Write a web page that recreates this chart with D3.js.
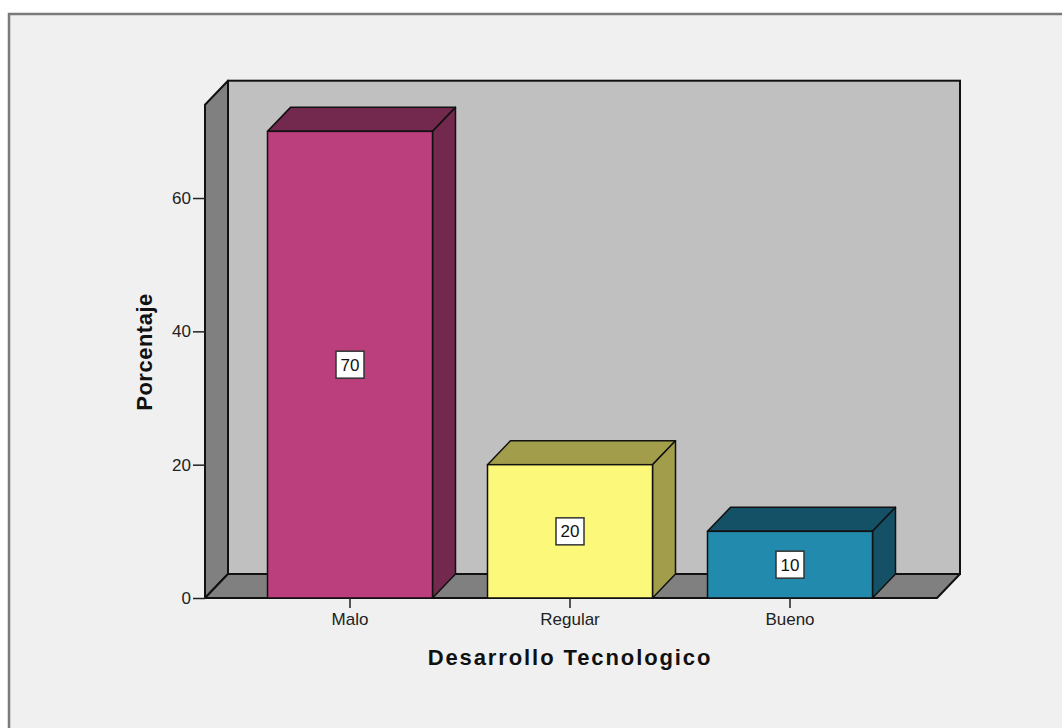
<!DOCTYPE html>
<html>
<head>
<meta charset="utf-8">
<script src="https://cdn.jsdelivr.net/npm/d3@7/dist/d3.min.js"></script>
<style>
  html, body { margin: 0; padding: 0; background: #ffffff; }
  svg { display: block; }
  text { font-family: Arial, "Liberation Sans", sans-serif; }
</style>
</head>
<body>
<svg id="chart" width="1062" height="728"></svg>
<script>
// Distribution of "Desarrollo Tecnologico" responses, in percent
const categories = ["Malo", "Regular", "Bueno"];
const percentages = [70, 20, 10];
const yTicks = [0, 20, 40, 60];
const frontColors = ["#bb3f7c", "#fbf87a", "#228aad"];
const sideColors = ["#73284d", "#a19d4b", "#155166"];

const svg = d3.select("#chart");

// Panel background with its frame
svg.append("rect")
  .attr("x", 9).attr("y", 14)
  .attr("width", 1062).attr("height", 728)
  .attr("fill", "#f0f0f0")
  .attr("stroke", "#7a7a7a").attr("stroke-width", 2.5);

// 3D depth offsets of the plot box
const dx = 23, dy = 24;
const plotLeft = 205, plotRight = 937, plotBottom = 598;

const x = d3.scaleBand()
  .domain(categories)
  .range([240, 900])
  .paddingInner(0.25)
  .paddingOuter(0.125);

const y = d3.scaleLinear()
  .domain([0, 74])
  .range([plotBottom, 104.7]);

const plotTop = y(74);
const g = svg.append("g");

// Back wall
g.append("rect")
  .attr("x", plotLeft + dx).attr("y", plotTop - dy)
  .attr("width", plotRight - plotLeft).attr("height", plotBottom - plotTop)
  .attr("fill", "#c0c0c0")
  .attr("stroke", "#111").attr("stroke-width", 2);

// Left wall
g.append("polygon")
  .attr("points", [[plotLeft, plotTop], [plotLeft + dx, plotTop - dy], [plotLeft + dx, plotBottom - dy], [plotLeft, plotBottom]].join(" "))
  .attr("fill", "#808080")
  .attr("stroke", "#111").attr("stroke-width", 2).attr("stroke-linejoin", "round");

// Floor
g.append("polygon")
  .attr("points", [[plotLeft, plotBottom], [plotLeft + dx, plotBottom - dy], [plotRight + dx, plotBottom - dy], [plotRight, plotBottom]].join(" "))
  .attr("fill", "#808080")
  .attr("stroke", "#111").attr("stroke-width", 2).attr("stroke-linejoin", "round");

// Bars: top face, right side and front face
const bars = g.selectAll("g.bar")
  .data(categories.map((c, i) => ({ c, v: percentages[i], i })))
  .join("g").attr("class", "bar");

bars.append("polygon")
  .attr("points", d => {
    const x0 = x(d.c), x1 = x0 + x.bandwidth(), yt = y(d.v);
    return [[x0, yt], [x0 + dx, yt - dy], [x1 + dx, yt - dy], [x1, yt]].join(" ");
  })
  .attr("fill", d => sideColors[d.i])
  .attr("stroke", "#111").attr("stroke-width", 1.5).attr("stroke-linejoin", "round");

bars.append("polygon")
  .attr("points", d => {
    const x1 = x(d.c) + x.bandwidth(), yt = y(d.v);
    return [[x1, yt], [x1 + dx, yt - dy], [x1 + dx, plotBottom - dy], [x1, plotBottom]].join(" ");
  })
  .attr("fill", d => sideColors[d.i])
  .attr("stroke", "#111").attr("stroke-width", 1.5).attr("stroke-linejoin", "round");

bars.append("rect")
  .attr("x", d => x(d.c))
  .attr("y", d => y(d.v))
  .attr("width", x.bandwidth())
  .attr("height", d => plotBottom - y(d.v))
  .attr("fill", d => frontColors[d.i])
  .attr("stroke", "#111").attr("stroke-width", 1.5);

// Value labels
const lab = bars.append("g")
  .attr("transform", d => `translate(${x(d.c) + x.bandwidth() / 2},${y(d.v / 2)})`);
lab.append("rect")
  .attr("x", -14).attr("y", -13.5)
  .attr("width", 28).attr("height", 27)
  .attr("fill", "#ffffff")
  .attr("stroke", "#333").attr("stroke-width", 1.5);
lab.append("text")
  .attr("text-anchor", "middle")
  .attr("dy", "0.36em")
  .attr("font-size", 17)
  .attr("fill", "#111")
  .text(d => d.v);

// Y axis
const yAxis = d3.axisLeft(y).tickValues(yTicks).tickSize(12).tickPadding(2).tickFormat(d3.format("d"));
const ya = svg.append("g").attr("transform", `translate(${plotLeft},0)`).call(yAxis);
ya.select(".domain").remove();
ya.selectAll("line").attr("stroke", "#222").attr("stroke-width", 1.5);
ya.selectAll("text").attr("font-size", 17).attr("fill", "#222").attr("font-family", "Arial, 'Liberation Sans', sans-serif");

// X axis
const xAxis = d3.axisBottom(x).tickSize(10).tickPadding(5);
const xa = svg.append("g").attr("transform", `translate(0,${plotBottom})`).call(xAxis);
xa.select(".domain").remove();
xa.selectAll("line").attr("stroke", "#222").attr("stroke-width", 1.5);
xa.selectAll("text").attr("font-size", 17).attr("fill", "#222").attr("font-family", "Arial, 'Liberation Sans', sans-serif");

// Axis titles
svg.append("text")
  .attr("x", 570).attr("y", 665)
  .attr("text-anchor", "middle")
  .attr("font-size", 22).attr("font-weight", "bold")
  .attr("letter-spacing", 1.9)
  .attr("fill", "#111")
  .text("Desarrollo Tecnologico");

svg.append("text")
  .attr("transform", "translate(152,352) rotate(-90)")
  .attr("text-anchor", "middle")
  .attr("font-size", 22).attr("font-weight", "bold")
  .attr("letter-spacing", 0.5)
  .attr("fill", "#111")
  .text("Porcentaje");
</script>
</body>
</html>
